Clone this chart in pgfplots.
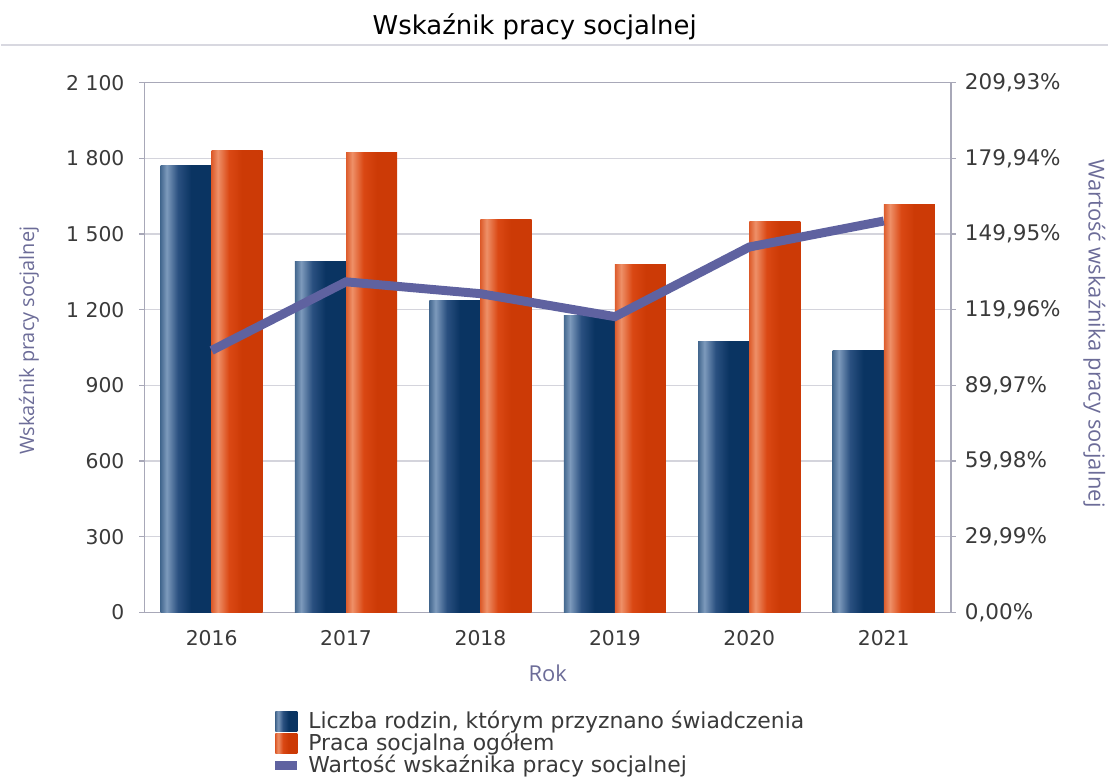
\documentclass[border=0pt]{standalone}
\usepackage{pgfplots}
\pgfplotsset{compat=1.18}
\usepackage{fontspec}
\setmainfont{DejaVu Sans}
\newfontfamily\labelfont{Open Sans}
\definecolor{bL}{HTML}{44688F}
\definecolor{bH}{HTML}{7D9ABC}
\definecolor{bM}{HTML}{2A5080}
\definecolor{bD}{HTML}{0A3462}
\definecolor{oL}{HTML}{DD5C2C}
\definecolor{oH}{HTML}{EE9068}
\definecolor{oM}{HTML}{DA4814}
\definecolor{oD}{HTML}{CC3A06}
\definecolor{lineC}{HTML}{5F62A0}
\definecolor{gridc}{HTML}{D4D4DC}
\definecolor{axisc}{HTML}{A8A8B8}
\definecolor{sepc}{HTML}{D8D8E0}
\definecolor{textc}{HTML}{3A3A3A}
\definecolor{labc}{HTML}{6C6C98}
\pgfdeclarehorizontalshading{blueBar}{100bp}{color(0bp)=(bL); color(25bp)=(bL); color(31bp)=(bH); color(42bp)=(bM); color(55bp)=(bD); color(75bp)=(bD); color(100bp)=(bD)}
\pgfdeclarehorizontalshading{orangeBar}{100bp}{color(0bp)=(oL); color(25bp)=(oL); color(31bp)=(oH); color(42bp)=(oM); color(55bp)=(oD); color(75bp)=(oD); color(100bp)=(oD)}
\pgfplotsset{
  blueb/.style={ybar, bar width=0.38, bar shift=-0.19, draw=none, shade, shading=blueBar, forget plot},
  orangeb/.style={ybar, bar width=0.38, bar shift=0.19, draw=none, shade, shading=orangeBar, forget plot},
}
\begin{document}
\begin{tikzpicture}
\begin{axis}[
  name=main,
  scale only axis, width=405pt, height=266pt,
  xmin=-0.5, xmax=5.5, ymin=0, ymax=2100,
  ytick={0,300,600,900,1200,1500,1800,2100},
  yticklabels={0,300,600,900,1 200,1 500,1 800,2 100},
  xtick={0,1,2,3,4,5},
  xticklabels={2016,2017,2018,2019,2020,2021},
  ymajorgrids, grid style={gridc, line width=0.6pt},
  axis line style={axisc, line width=0.8pt},
  ytick pos=left, tick align=outside, major tick length=2.5pt,
  ytick style={axisc, line width=0.6pt},
  xtick style={draw=none},
  tick label style={font=\fontsize{10.2}{12}\selectfont, text=textc},
  yticklabel style={xshift=-4pt},
  xticklabel style={yshift=-3pt},
]
% Liczba rodzin, którym przyznano świadczenia
\addplot[blueb] coordinates {(0,1770)};
\addplot[blueb] coordinates {(1,1392)};
\addplot[blueb] coordinates {(2,1237)};
\addplot[blueb] coordinates {(3,1178)};
\addplot[blueb] coordinates {(4,1075)};
\addplot[blueb] coordinates {(5,1037)};
% Praca socjalna ogółem
\addplot[orangeb] coordinates {(0,1832)};
\addplot[orangeb] coordinates {(1,1825)};
\addplot[orangeb] coordinates {(2,1557)};
\addplot[orangeb] coordinates {(3,1379)};
\addplot[orangeb] coordinates {(4,1549)};
\addplot[orangeb] coordinates {(5,1616)};
\end{axis}
\begin{axis}[
  scale only axis, width=405pt, height=266pt,
  xmin=-0.5, xmax=5.5, ymin=0, ymax=209.93,
  axis x line=none, axis y line*=right,
  ytick={0,29.99,59.98,89.97,119.96,149.95,179.94,209.93},
  yticklabels={{0,00\%},{29,99\%},{59,98\%},{89,97\%},{119,96\%},{149,95\%},{179,94\%},{209,93\%}},
  axis line style={axisc, line width=0.8pt},
  tick align=outside, major tick length=2.5pt,
  ytick style={axisc, line width=0.6pt},
  tick label style={font=\fontsize{10.8}{12}\selectfont, text=textc},
  yticklabel style={xshift=1pt},
  legend style={at={(axis description cs:0.162,-0.178)}, anchor=north west,
    draw=none, fill=none, font=\fontsize{11}{12}\selectfont, text=textc,
    cells={anchor=west}, row sep=-3.3pt, inner sep=0pt,
    /tikz/every odd column/.append style={column sep=3.5pt}},
]
\addlegendimage{legend image code/.code={\path[draw=none, shade, shading=blueBar] (0pt,-5pt) rectangle (11pt,5pt);}}
\addlegendentry{Liczba rodzin, którym przyznano świadczenia}
\addlegendimage{legend image code/.code={\path[draw=none, shade, shading=orangeBar] (0pt,-5pt) rectangle (11pt,5pt);}}
\addlegendentry{Praca socjalna ogółem}
\addplot[lineC, line width=4.5pt, mark=none,
  legend image code/.code={\path[fill=lineC, draw=none, line width=0pt] (0pt,-2.2pt) rectangle (11pt,2.2pt);}]
  coordinates {(0,103.8) (1,131.0) (2,126.3) (3,117.2) (4,144.8) (5,155.1)};
\addlegendentry{Wartość wskaźnika pracy socjalnej}
\end{axis}
\draw[sepc, line width=1pt] ([xshift=-72pt,yshift=19pt]main.north west) -- ([xshift=79pt,yshift=19pt]main.north east);
\node[font=\fontsize{13}{15}\selectfont, text=black] at ([xshift=-6.5pt, yshift=28pt]main.north) {Wskaźnik pracy socjalnej};
\node[rotate=90, font=\labelfont\fontsize{10}{12}\selectfont, text=labc] at ([xshift=-58pt, yshift=3.5pt]main.west) {Wskaźnik pracy socjalnej};
\node[rotate=-90, font=\labelfont\fontsize{11}{13}\selectfont, text=labc] at ([xshift=72pt, yshift=7pt]main.east) {Wartość wskaźnika pracy socjalnej};
\node[font=\labelfont\fontsize{11}{13}\selectfont, text=labc] at ([yshift=-30.5pt]main.south) {Rok};
\path ([xshift=-72pt,yshift=41.5pt]main.north west) rectangle ([xshift=79pt,yshift=-81.5pt]main.south east);
\end{tikzpicture}
\end{document}
